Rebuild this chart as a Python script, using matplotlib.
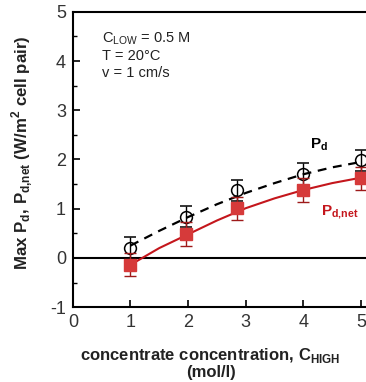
import numpy as np
import matplotlib
matplotlib.use('Agg')
import matplotlib.pyplot as plt
from matplotlib.ticker import MultipleLocator

plt.rcParams['font.family'] = ['Liberation Sans', 'DejaVu Sans']
plt.rcParams['mathtext.fontset'] = 'custom'
plt.rcParams['mathtext.rm'] = 'Liberation Sans'
plt.rcParams['mathtext.bf'] = 'Liberation Sans:bold'
plt.rcParams['axes.unicode_minus'] = False

# measured points (concentration in mol/l, power density W/m2 cell pair)
c_high = [1.0, 1.97, 2.85, 4.0, 5.0]
pd_gross = [0.21, 0.84, 1.37, 1.71, 1.98]
pd_gross_err = [0.22, 0.21, 0.22, 0.22, 0.22]
pd_net = [-0.14, 0.48, 1.01, 1.38, 1.62]
pd_net_err = [0.23, 0.24, 0.23, 0.24, 0.23]

# trend lines
fit_x = [1.0, 1.5, 2.0, 2.5, 3.0, 3.5, 4.0, 4.5, 5.0]
fit_gross = [0.25, 0.55, 0.83, 1.09, 1.32, 1.52, 1.70, 1.84, 1.95]
fit_net = [-0.14, 0.20, 0.48, 0.76, 1.01, 1.21, 1.38, 1.52, 1.63]

red = '#d63a3a'
red_line = '#c4161c'

fig = plt.figure(figsize=(3.66, 3.82), dpi=100)
ax = fig.add_axes([0.199, 0.196, 0.866, 0.773])

ax.axhline(0, color='black', lw=1.5, zorder=1)

ax.plot(fit_x, fit_gross, color='black', ls=(0, (4, 3)), lw=1.6, zorder=2)
ax.plot(fit_x, fit_net, color=red_line, ls='-', lw=1.5, zorder=2)

ax.errorbar(c_high, pd_gross, yerr=pd_gross_err, fmt='o', mfc='none', mec='black',
            mew=1.1, ms=8.5, ecolor='black', elinewidth=1.0, capsize=4, capthick=1.0, zorder=3)
ax.errorbar(c_high, pd_net, yerr=pd_net_err, fmt='s', mfc=red, mec=red,
            ms=9, ecolor='#9e1a1a', elinewidth=1.0, capsize=4, capthick=1.0, zorder=4)

ax.set_xlim(0, 5.5)
ax.set_ylim(-1, 5)
ax.xaxis.set_major_locator(MultipleLocator(1))
ax.yaxis.set_major_locator(MultipleLocator(1))
ax.yaxis.set_minor_locator(MultipleLocator(0.5))
ax.tick_params(which='both', direction='in', top=False, right=False, labelsize=13, pad=5,
               labelcolor='#333333')
ax.tick_params(which='major', length=5, width=1.2)
ax.tick_params(which='minor', length=3, width=1.0)
for s in ax.spines.values():
    s.set_linewidth(1.5)

ax.text(0.5, 4.45, r'C$_{\mathregular{LOW}}$ = 0.5 M', fontsize=10.5, va='center', color='#222222')
ax.text(0.5, 4.1, u'T = 20\u00b0C', fontsize=10.5, va='center', color='#222222')
ax.text(0.5, 3.76, 'v = 1 cm/s', fontsize=10.5, va='center', color='#222222')

ax.text(4.12, 2.22, r'P$_{\mathbf{d}}$', fontsize=11, fontweight='bold', color='black')
ax.text(4.3, 0.88, r'P$_{\mathbf{d{,}net}}$', fontsize=11, fontweight='bold', color=red_line)

ax.set_ylabel(r'Max P$_{\mathbf{d}}$, P$_{\mathbf{d{,}net}}$ (W/m$^{\mathbf{2}}$ cell pair)',
              fontsize=12.2, fontweight='bold', color='#222222')
ax.yaxis.set_label_coords(-0.12, 0.522)
ax.set_xlabel('concentrate concentration, C$_{\\mathbf{HIGH}}$\n(mol/l)',
              fontsize=12, fontweight='bold', color='#222222', linespacing=1.05)
ax.xaxis.set_label_coords(0.435, -0.13)
ax.xaxis.label.set_va('top')

fig.savefig('out.png', dpi=100)
